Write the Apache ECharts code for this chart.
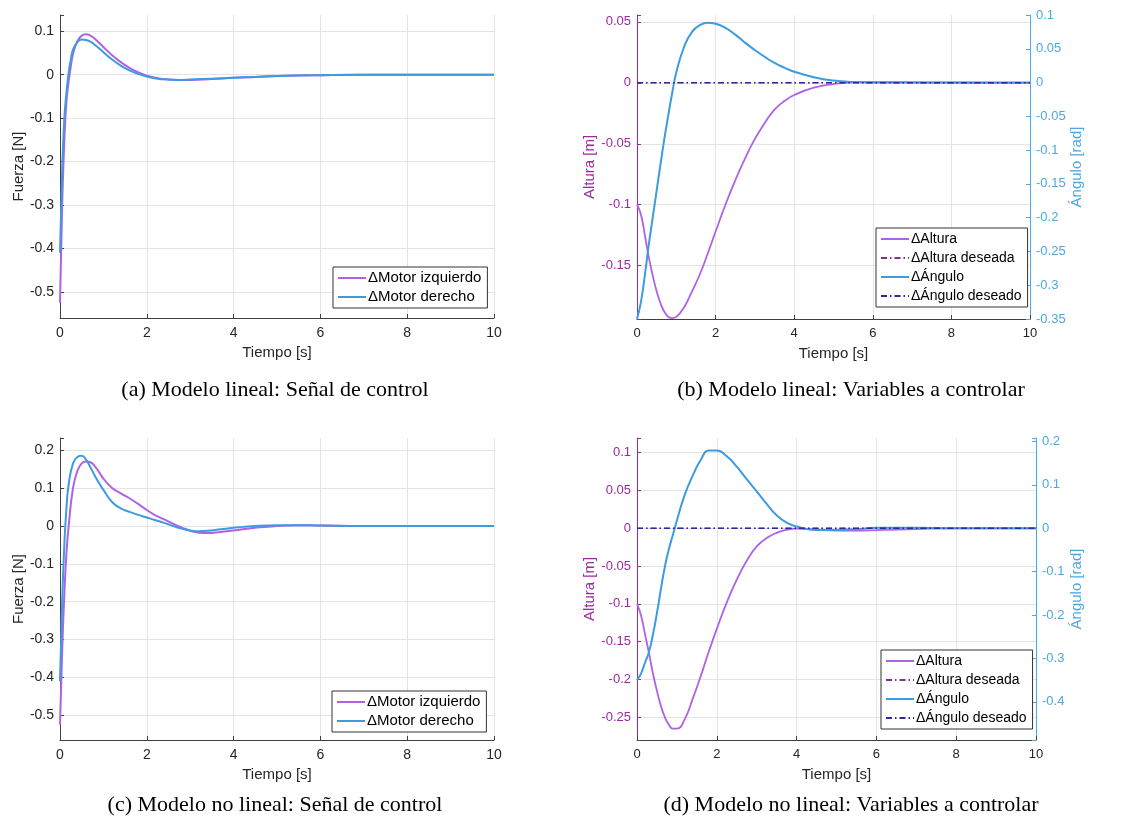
<!DOCTYPE html>
<html lang="es">
<head>
    <meta charset="UTF-8">
    <title>Modelo lineal / no lineal</title>
    <script src="https://cdn.jsdelivr.net/npm/echarts@6/dist/echarts.min.js"></script>
    <style>
        html, body { margin: 0; padding: 0; background: #fff; }
        #main { width: 1128px; height: 823px; }
    </style>
</head>
<body>
    <div id="main"></div>

    <script>
        // --- (a) modelo lineal: señal de control ---
        var tA = [0, 0.05, 0.1, 0.15, 0.2, 0.25, 0.3, 0.4, 0.5, 0.6, 0.7, 0.8, 1.0, 1.2, 1.4, 1.6, 1.8, 2.0,
                  2.25, 2.5, 2.75, 3.0, 3.5, 4, 4.5, 5, 6, 7, 8, 9, 10];
        var motorIzqA = [-0.525, -0.30, -0.15, -0.06, -0.015, 0.02, 0.048, 0.077, 0.09, 0.093, 0.09, 0.083,
                         0.064, 0.045, 0.029, 0.016, 0.006, -0.002, -0.008, -0.011, -0.012, -0.012,
                         -0.010, -0.007, -0.005, -0.003, -0.001, 0, 0, 0, 0];
        var motorDerA = [-0.41, -0.22, -0.10, -0.04, 0.005, 0.035, 0.058, 0.075, 0.081, 0.08, 0.076, 0.069,
                         0.052, 0.035, 0.021, 0.01, 0.002, -0.004, -0.009, -0.011, -0.012, -0.011,
                         -0.009, -0.007, -0.005, -0.003, -0.001, 0, 0, 0, 0];

        // --- (b) modelo lineal: variables a controlar ---
        var tB = [0, 0.1, 0.2, 0.3, 0.4, 0.5, 0.6, 0.7, 0.8, 0.9, 1.0, 1.2, 1.4, 1.6, 1.8, 2.0,
                  2.25, 2.5, 2.75, 3.0, 3.25, 3.5, 3.75, 4.0, 4.5, 5, 5.5, 6, 7, 8, 9, 10];
        var alturaB = [-0.1, -0.108, -0.125, -0.143, -0.158, -0.171, -0.181, -0.188, -0.192, -0.193, -0.192,
                       -0.184, -0.171, -0.157, -0.14, -0.122, -0.1, -0.08, -0.062, -0.046,
                       -0.033, -0.022, -0.015, -0.01, -0.004, -0.001, 0.0003, 0.0005, 0.0003, 0.0001, 0, 0];
        var anguloB = [-0.35, -0.325, -0.285, -0.24, -0.2, -0.16, -0.12, -0.082, -0.047, -0.014, 0.015,
                       0.053, 0.075, 0.085, 0.0885, 0.087, 0.081, 0.071, 0.059, 0.048,
                       0.038, 0.029, 0.022, 0.016, 0.008, 0.003, 0.0008, 0, 0, 0, 0, 0];

        // --- (c) modelo no lineal: señal de control ---
        var tC = [0, 0.05, 0.1, 0.15, 0.2, 0.3, 0.4, 0.5, 0.6, 0.7, 0.8, 0.9, 1.0, 1.2, 1.4, 1.6, 1.8, 2.0,
                  2.2, 2.4, 2.6, 2.8, 3.0, 3.2, 3.4, 3.7, 4.0, 4.5, 5, 5.5, 6, 7, 8, 9, 10];
        var motorIzqC = [-0.525, -0.33, -0.18, -0.07, 0.0, 0.1, 0.145, 0.165, 0.17, 0.168, 0.158, 0.142, 0.125,
                         0.1, 0.086, 0.073, 0.058, 0.042, 0.028, 0.017, 0.006, -0.004, -0.013,
                         -0.018, -0.019, -0.016, -0.012, -0.005, 0.0, 0.002, 0.001, 0, 0, 0, 0];
        var motorDerC = [-0.41, -0.2, -0.05, 0.05, 0.11, 0.165, 0.182, 0.185, 0.175, 0.155, 0.133, 0.113, 0.095,
                         0.063, 0.046, 0.037, 0.029, 0.022, 0.015, 0.008, 0.0, -0.007, -0.012,
                         -0.014, -0.013, -0.009, -0.005, 0.0, 0.002, 0.002, 0.001, 0, 0, 0, 0];

        // --- (d) modelo no lineal: variables a controlar ---
        var tD = [0, 0.1, 0.2, 0.3, 0.4, 0.5, 0.6, 0.7, 0.8, 0.9, 1.0, 1.2, 1.4, 1.6, 1.8, 2.0,
                  2.25, 2.5, 2.75, 3.0, 3.25, 3.5, 3.75, 4.0, 4.5, 5, 5.5, 6, 7, 8, 9, 10];
        var alturaD = [-0.1, -0.115, -0.14, -0.165, -0.192, -0.215, -0.235, -0.25, -0.26, -0.265, -0.265,
                       -0.252, -0.225, -0.195, -0.163, -0.133, -0.098, -0.068, -0.043, -0.024,
                       -0.013, -0.006, -0.002, -0.0005, -0.002, -0.003, -0.003, -0.0025, -0.001, 0, 0, 0];
        var anguloD = [-0.35, -0.335, -0.31, -0.285, -0.245, -0.195, -0.14, -0.088, -0.048, -0.015, 0.018,
                       0.078, 0.122, 0.158, 0.179, 0.179, 0.166, 0.142, 0.113, 0.085,
                       0.056, 0.03, 0.013, 0.004, -0.004, -0.004, -0.002, 0.001, 0.001, 0, 0, 0];

        // referencias deseadas (constantes)
        var tRef = [0, 10];
        var deseado = [0, 0];

        var captions = [
            '(a) Modelo lineal: Señal de control',
            '(b) Modelo lineal: Variables a controlar',
            '(c) Modelo no lineal: Señal de control',
            '(d) Modelo no lineal: Variables a controlar'
        ];

        var C_PURPLE = '#b062e6';
        var C_BLUE = '#3d9be0';
        var C_PURPLE_AX = '#9a2b9e';
        var C_BLUE_AX = '#4da8e3';
        var C_REF_ALT = '#8e2c8e';
        var C_REF_ANG = '#2a2aa0';
        var FONT = '"Liberation Sans", Arial, sans-serif';
        var SERIF = '22px "Liberation Serif", "Times New Roman", serif';

        function zip(t, y) {
            return t.map(function (v, i) { return [v, y[i]]; });
        }

        function xAxisFor(gridIndex, fs) {
            return {
                type: 'value', gridIndex: gridIndex, min: 0, max: 10, interval: 2,
                name: 'Tiempo [s]', nameLocation: 'middle', nameGap: 27,
                nameTextStyle: { fontFamily: FONT, fontSize: 15, color: '#262626' },
                axisLine: { onZero: false, lineStyle: { color: '#404040' } },
                axisTick: { inside: true, length: 4, lineStyle: { color: '#404040' } },
                axisLabel: { fontFamily: FONT, fontSize: fs, color: '#262626', margin: 8 },
                splitLine: { show: true, showMaxLine: true, lineStyle: { color: '#e4e4e4' } }
            };
        }

        function yAxisFor(gridIndex, min, max, step, opts) {
            opts = opts || {};
            var color = opts.color || '#404040';
            var labelColor = opts.labelColor || '#262626';
            return {
                type: 'value', gridIndex: gridIndex, min: min, max: max,
                minInterval: step, maxInterval: step,
                position: opts.right ? 'right' : 'left',
                name: opts.name, nameLocation: 'middle', nameGap: opts.nameGap || 33, nameRotate: 90,
                nameTextStyle: { fontFamily: FONT, fontSize: 15, color: opts.nameColor || '#262626' },
                axisLine: { show: true, onZero: false, lineStyle: { color: color } },
                axisTick: { inside: true, length: 4, lineStyle: { color: color } },
                axisLabel: {
                    fontFamily: FONT, fontSize: opts.fs || 14, color: labelColor, margin: 6,
                    showMinLabel: true, showMaxLabel: true,
                    formatter: function (v) {
                        var k = v / step;
                        if (Math.abs(k - Math.round(k)) > 1e-6) return '';
                        return String(Math.round(k * step * 1000) / 1000);
                    }
                },
                splitLine: {
                    show: !opts.right, showMinLine: false, showMaxLine: false,
                    lineStyle: { color: '#e4e4e4' }
                }
            };
        }

        function line(name, data, xi, yi, color, width, dashed) {
            return {
                name: name, type: 'line', xAxisIndex: xi, yAxisIndex: yi, data: data,
                symbol: 'none', showSymbol: false,
                smooth: dashed ? false : true,
                lineStyle: { color: color, width: width, type: dashed ? [6, 3, 1.5, 3] : 'solid' },
                itemStyle: { color: color },
                animation: false, z: dashed ? 3 : 2
            };
        }

        function legendAt(left, top, names, fs) {
            return {
                left: left, top: top, orient: 'vertical', data: names,
                backgroundColor: '#fff', borderColor: '#333', borderWidth: 1,
                padding: [3, 6, 3, 4], itemGap: 3, itemWidth: 28, itemHeight: 14,
                itemStyle: { opacity: 0 },
                textStyle: { fontFamily: FONT, fontSize: fs, color: '#000', lineHeight: 16, padding: [0, 0, 0, -3] },
                selectedMode: false
            };
        }

        var chart = echarts.init(document.getElementById('main'), null, { renderer: 'canvas' });

        var option = {
            backgroundColor: '#fff',
            animation: false,
            grid: [
                { left: 60, top: 15, width: 434, height: 303 },
                { left: 637, top: 15, width: 393, height: 304 },
                { left: 60, top: 438, width: 434, height: 302 },
                { left: 637, top: 438, width: 399, height: 302 }
            ],
            xAxis: [xAxisFor(0, 14), xAxisFor(1, 13), xAxisFor(2, 14), xAxisFor(3, 13)],
            yAxis: [
                yAxisFor(0, -0.56, 0.1375, 0.1, { name: 'Fuerza [N]', nameGap: 32 }),
                yAxisFor(1, -0.1937, 0.0556, 0.05, {
                    name: 'Altura [m]', nameGap: 37, fs: 13, color: C_PURPLE_AX, labelColor: C_PURPLE_AX, nameColor: C_PURPLE_AX
                }),
                yAxisFor(1, -0.35, 0.1, 0.05, {
                    right: true, name: 'Ángulo [rad]', nameGap: 39, fs: 13, color: C_BLUE_AX, labelColor: C_BLUE_AX, nameColor: C_BLUE_AX
                }),
                yAxisFor(2, -0.565, 0.232, 0.1, { name: 'Fuerza [N]', nameGap: 32 }),
                yAxisFor(3, -0.28, 0.1194, 0.05, {
                    name: 'Altura [m]', nameGap: 37, fs: 13, color: C_PURPLE_AX, labelColor: C_PURPLE_AX, nameColor: C_PURPLE_AX
                }),
                yAxisFor(3, -0.488, 0.208, 0.1, {
                    right: true, name: 'Ángulo [rad]', nameGap: 33, fs: 13, color: C_BLUE_AX, labelColor: C_BLUE_AX, nameColor: C_BLUE_AX
                })
            ],
            legend: [
                legendAt(333, 267, ['ΔMotor izquierdo', 'ΔMotor derecho'], 15),
                legendAt(876, 228, ['ΔAltura', 'ΔAltura deseada', 'ΔÁngulo', 'ΔÁngulo deseado'], 14),
                legendAt(332, 691, ['ΔMotor izquierdo', 'ΔMotor derecho'], 15),
                legendAt(881, 650, ['ΔAltura', 'ΔAltura deseada', 'ΔÁngulo', 'ΔÁngulo deseado'], 14)
            ],
            series: [
                line('ΔMotor izquierdo', zip(tA, motorIzqA), 0, 0, C_PURPLE, 2),
                line('ΔMotor derecho', zip(tA, motorDerA), 0, 0, C_BLUE, 2),

                line('ΔAltura', zip(tB, alturaB), 1, 1, C_PURPLE, 1.8),
                line('ΔAltura deseada', zip(tRef, deseado), 1, 1, C_REF_ALT, 1.3, true),
                line('ΔÁngulo', zip(tB, anguloB), 1, 2, C_BLUE, 2),
                line('ΔÁngulo deseado', zip(tRef, deseado), 1, 2, C_REF_ANG, 1.3, true),

                line('ΔMotor izquierdo', zip(tC, motorIzqC), 2, 3, C_PURPLE, 2),
                line('ΔMotor derecho', zip(tC, motorDerC), 2, 3, C_BLUE, 2),

                line('ΔAltura', zip(tD, alturaD), 3, 4, C_PURPLE, 1.8),
                line('ΔAltura deseada', zip(tRef, deseado), 3, 4, C_REF_ALT, 1.3, true),
                line('ΔÁngulo', zip(tD, anguloD), 3, 5, C_BLUE, 2),
                line('ΔÁngulo deseado', zip(tRef, deseado), 3, 5, C_REF_ANG, 1.3, true)
            ],
            graphic: [
                { type: 'text', x: 275, y: 390, style: { text: captions[0], font: SERIF, fill: '#000', textAlign: 'center', textVerticalAlign: 'middle' } },
                { type: 'text', x: 851, y: 390, style: { text: captions[1], font: SERIF, fill: '#000', textAlign: 'center', textVerticalAlign: 'middle' } },
                { type: 'text', x: 275, y: 805, style: { text: captions[2], font: SERIF, fill: '#000', textAlign: 'center', textVerticalAlign: 'middle' } },
                { type: 'text', x: 851, y: 805, style: { text: captions[3], font: SERIF, fill: '#000', textAlign: 'center', textVerticalAlign: 'middle' } }
            ]
        };

        chart.setOption(option);
    </script>
</body>
</html>
